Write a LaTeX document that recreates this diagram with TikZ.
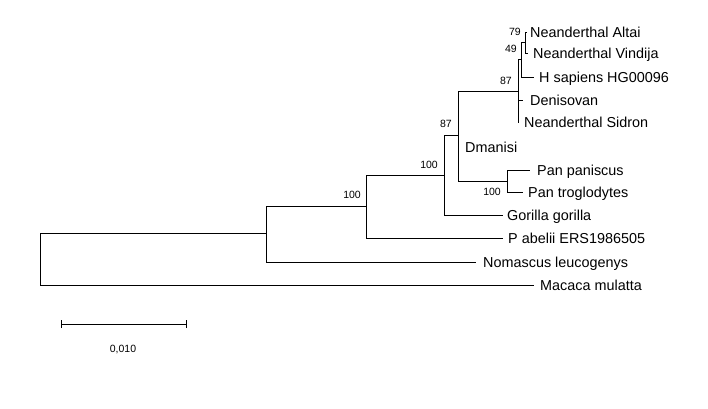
\documentclass[tikz,border=0pt]{standalone}
\usepackage{fontspec}
\setmainfont{Liberation Sans}
\begin{document}
\begin{tikzpicture}[x=1pt,y=-1pt,
  branch/.style={line width=1pt,line cap=rect},
  leaf/.style={anchor=base west,inner sep=0pt,font=\fontsize{14.4}{16}\selectfont,yshift=-5pt},
  boot/.style={anchor=east,inner sep=0pt,font=\fontsize{10.5}{12}\selectfont}]
\useasboundingbox[fill=white] (0,0) rectangle (708,408);
% internal nodes
\coordinate (R) at (40,233);
\coordinate (A) at (266,233);
\coordinate (B) at (366,206);
\coordinate (C) at (444,175);
\coordinate (D) at (458,135);
\coordinate (E) at (518,91);
\coordinate (G) at (521,59);
\coordinate (H) at (525,42);
\coordinate (F) at (507,181);
% leaf ends
\coordinate (altai) at (526,32);
\coordinate (vindija) at (527,53);
\coordinate (hsap) at (533,77);
\coordinate (deniso) at (522,100);
\coordinate (sidron) at (518,122);
\coordinate (dmanisi) at (458,147);
\coordinate (panp) at (529,170);
\coordinate (pant) at (522,192);
\coordinate (gor) at (502,215);
\coordinate (pab) at (502,238);
\coordinate (nom) at (475,262);
\coordinate (mac) at (533,285);
% branches
\draw[branch] (R) |- (A);
\draw[branch] (R) |- (mac);
\draw[branch] (A) |- (B);
\draw[branch] (A) |- (nom);
\draw[branch] (B) |- (C);
\draw[branch] (B) |- (pab);
\draw[branch] (C) |- (D);
\draw[branch] (C) |- (gor);
\draw[branch] (D) |- (E);
\draw[branch] (D) |- (dmanisi);
\draw[branch] (D) |- (F);
\draw[branch] (F) |- (panp);
\draw[branch] (F) |- (pant);
\draw[branch] (E) |- (G);
\draw[branch] (E) |- (deniso);
\draw[branch] (E) |- (sidron);
\draw[branch] (G) |- (H);
\draw[branch] (G) |- (hsap);
\draw[branch] (H) |- (altai);
\draw[branch] (H) |- (vindija);
% leaf labels
\node[leaf] (tAltai) at (530,32) {Neanderthal Altai};
\node[leaf] (tVindija) at (533,53) {Neanderthal Vindija};
\node[leaf] (tHsap) at (539,77) {H sapiens HG00096};
\node[leaf] (tDeniso) at (530,100) {Denisovan};
\node[leaf] (tSidron) at (524,122) {Neanderthal Sidron};
\node[leaf] (tDmanisi) at (465,147) {Dmanisi};
\node[leaf] (tPanp) at (537,170) {Pan paniscus};
\node[leaf] (tPant) at (528,192) {Pan troglodytes};
\node[leaf] (tGor) at (507,215) {Gorilla gorilla};
\node[leaf] (tPab) at (508,238) {P abelii ERS1986505};
\node[leaf] (tNom) at (483,262) {Nomascus leucogenys};
\node[leaf] (tMac) at (540,285) {Macaca mulatta};
% bootstrap values
\node[boot] (bH) at (521,32) {79};
\node[boot] (bG) at (517,49) {49};
\node[boot] (bE) at (512,81) {87};
\node[boot] (bD) at (452,124) {87};
\node[boot] (bC) at (438,165) {100};
\node[boot] (bB) at (361,195) {100};
\node[boot] (bF) at (501,192) {100};
% scale bar
\coordinate (s1) at (61,324);
\coordinate (s2) at (186,324);
\draw[line width=1pt] (s1) -- (s2);
\draw[line width=1pt] ([yshift=-4pt]s1) -- ([yshift=4pt]s1);
\draw[line width=1pt] ([yshift=-4pt]s2) -- ([yshift=4pt]s2);
\node[inner sep=0pt,font=\fontsize{10.5}{12}\selectfont] (scale) at (123,349) {0,010};
\end{tikzpicture}
\end{document}
